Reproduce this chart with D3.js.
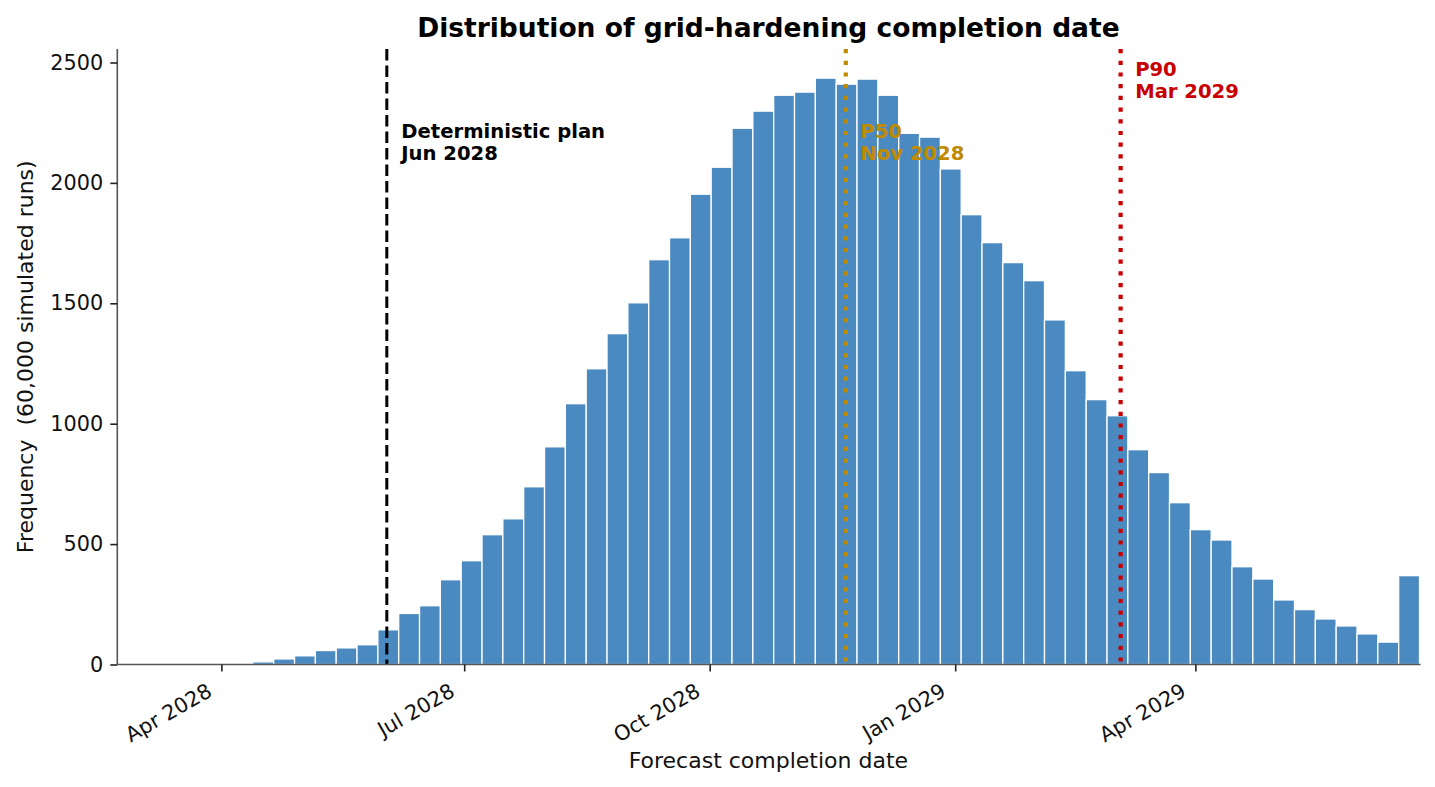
<!DOCTYPE html>
<html>
<head>
<meta charset="utf-8">
<script src="https://cdn.jsdelivr.net/npm/d3@7"></script>
<style>
  body { margin: 0; background: #fff; }
  svg { display: block; font-family: 'DejaVu Sans', sans-serif; }
</style>
</head>
<body>
<div id="chart"></div>
<script>
// histogram of simulated completion dates (weekly-ish bins)
const binStart = '2028-04-05';
const binEnd = '2029-06-24';
const binCounts = [
    4, 11, 23, 36, 58, 69, 82, 144, 212, 244,
    352, 431, 539, 605, 738, 904, 1083, 1228, 1374, 1502,
    1681, 1772, 1953, 2065, 2227, 2298, 2364, 2377, 2435, 2410,
    2431, 2364, 2206, 2190, 2058, 1868, 1752, 1669, 1594, 1431,
    1220, 1100, 1033, 892, 797, 672, 560, 517, 406, 355,
    268, 228, 189, 160, 127, 93, 369
];

const xDomain = ['2028-02-22', '2029-06-24'];
const xTicks = ['2028-04-01', '2028-07-01', '2028-10-01', '2029-01-01', '2029-04-01'];
const yTicks = [0, 500, 1000, 1500, 2000, 2500];
const yMax = 2556;

// reference lines
const markerDates = ['2028-06-02', '2028-11-21', '2029-03-04'];
const markerNames = ['Deterministic plan', 'P50', 'P90'];
const markerLabels = ['Jun 2028', 'Nov 2028', 'Mar 2029'];
const markerColors = ['#000000', '#c08a00', '#c80000'];

const width = 1435, height = 787;
const margin = { top: 49, right: 15.5, bottom: 122.5, left: 117.3 };
const innerW = width - margin.left - margin.right;
const innerH = height - margin.top - margin.bottom;

const parse = d3.timeParse('%Y-%m-%d');

const svg = d3.select('#chart')
    .append('svg')
    .attr('width', width)
    .attr('height', height);

const g = svg.append('g')
    .attr('transform', `translate(${margin.left},${margin.top})`);

const x = d3.scaleTime()
    .domain(xDomain.map(parse))
    .range([0, innerW]);

const y = d3.scaleLinear()
    .domain([0, yMax])
    .range([innerH, 0]);

const t0 = parse(binStart).getTime();
const binMs = (parse(binEnd).getTime() - t0) / binCounts.length;
const bins = binCounts.map((c, i) => ({
    x0: new Date(t0 + i * binMs),
    x1: new Date(t0 + (i + 1) * binMs),
    count: c
}));

// bars
g.selectAll('.bar')
    .data(bins)
    .enter()
    .append('rect')
    .attr('class', 'bar')
    .attr('x', d => x(d.x0))
    .attr('y', d => y(d.count))
    .attr('width', d => x(d.x1) - x(d.x0))
    .attr('height', d => innerH - y(d.count))
    .attr('fill', '#4b8ac0')
    .attr('stroke', '#ffffff')
    .attr('stroke-width', 1.3);

// marker lines
const dashes = ['11.5,5', '4.2,7.5', '4.2,7.5'];
const widths = [3, 4.2, 4.2];
markerDates.forEach((d, i) => {
    const mx = x(parse(d));
    g.append('line')
        .attr('x1', mx).attr('x2', mx)
        .attr('y1', 0).attr('y2', innerH)
        .attr('stroke', markerColors[i])
        .attr('stroke-width', widths[i])
        .attr('stroke-dasharray', dashes[i]);
});

// marker labels
const labelTop = [89.3, 89.3, 27];   // baseline of first line, px from axes top
markerDates.forEach((d, i) => {
    const mx = x(parse(d));
    const txt = g.append('text')
        .attr('x', mx + 14.5)
        .attr('y', labelTop[i])
        .style('font-size', '19.6px')
        .style('font-weight', 'bold')
        .style('fill', markerColors[i]);
    txt.append('tspan').attr('x', mx + 14.5).text(markerNames[i]);
    txt.append('tspan').attr('x', mx + 14.5).attr('dy', 21.8).text(markerLabels[i]);
});

// y axis
const yAxis = g.append('g')
    .call(d3.axisLeft(y).tickValues(yTicks).tickSize(7).tickPadding(7).tickFormat(d3.format('d')));
yAxis.select('.domain').attr('stroke', '#555').attr('stroke-width', 1.6).attr('d', `M0,0V${innerH}`);
yAxis.selectAll('.tick line').attr('stroke', '#222').attr('stroke-width', 1.6);
yAxis.selectAll('.tick text')
    .style('font-size', '20.8px')
    .style('font-family', "'DejaVu Sans', sans-serif")
    .style('fill', '#111');

// x axis, labels rotated like autofmt_xdate
const xAxis = g.append('g')
    .attr('transform', `translate(0,${innerH})`)
    .call(d3.axisBottom(x).tickValues(xTicks.map(parse)).tickSize(7).tickFormat(d3.timeFormat('%b %Y')));
xAxis.select('.domain').attr('stroke', '#555').attr('stroke-width', 1.6).attr('d', `M0,0H${innerW + 1}`);
xAxis.selectAll('.tick line').attr('stroke', '#222').attr('stroke-width', 1.6);
xAxis.selectAll('.tick text')
    .attr('x', -22.6)
    .attr('y', 22.2)
    .attr('dy', 0)
    .attr('transform', 'rotate(-30)')
    .style('text-anchor', 'end')
    .style('font-size', '20.8px')
    .style('font-family', "'DejaVu Sans', sans-serif")
    .style('fill', '#111');

// title and axis labels
svg.append('text')
    .attr('x', margin.left + innerW / 2)
    .attr('y', 37)
    .attr('text-anchor', 'middle')
    .style('font-size', '26.5px')
    .style('font-weight', 'bold')
    .style('fill', '#000')
    .text('Distribution of grid-hardening completion date');

svg.append('text')
    .attr('x', margin.left + innerW / 2)
    .attr('y', 768)
    .attr('text-anchor', 'middle')
    .style('font-size', '22px')
    .style('fill', '#111')
    .text('Forecast completion date');

svg.append('text')
    .attr('transform', `translate(33,${margin.top + innerH / 2}) rotate(-90)`)
    .attr('text-anchor', 'middle')
    .style('font-size', '22px')
    .style('fill', '#111')
    .style('white-space', 'pre')
    .text('Frequency  (60,000 simulated runs)');
</script>
</body>
</html>
